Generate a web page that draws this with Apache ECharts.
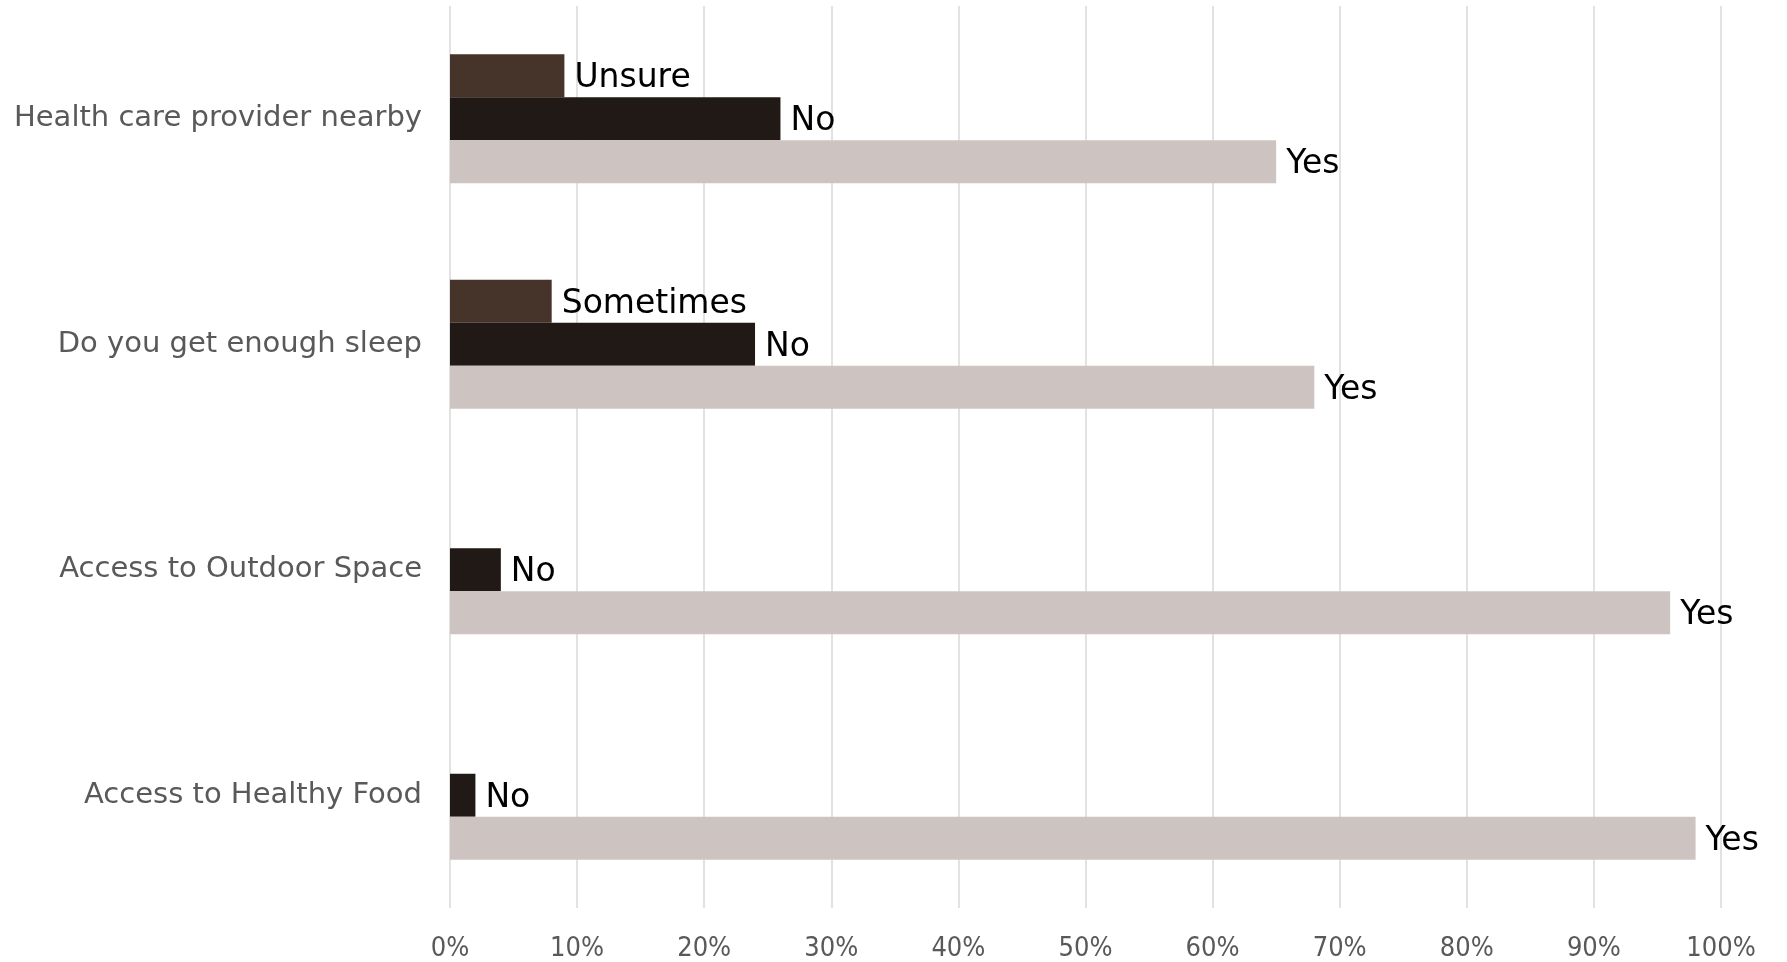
<!DOCTYPE html>
<html>
<head>
<meta charset="utf-8">
<script src="https://cdn.jsdelivr.net/npm/echarts@6/dist/echarts.min.js"></script>
<style>
html,body{margin:0;padding:0;background:#fff;}
#chart{width:1787px;height:962px;}
</style>
</head>
<body>
<div id="chart"></div>
<script>
// Data (top-to-bottom category order)
const categories = ['Health care provider nearby', 'Do you get enough sleep', 'Access to Outdoor Space', 'Access to Healthy Food'];
const yesValues = [65, 68, 96, 98];
const noValues = [26, 24, 4, 2];
const otherValues = [9, 8, null, null];
const otherLabels = ['Unsure', 'Sometimes', '', ''];
const xTicks = [0, 10, 20, 30, 40, 50, 60, 70, 80, 90, 100];

const labelStyle = {
  show: true,
  position: 'right',
  distance: 10,
  offset: [0, 3],
  color: '#000',
  fontFamily: 'DejaVu Sans',
  fontSize: 33
};

const chart = echarts.init(document.getElementById('chart'));
chart.setOption({
  backgroundColor: '#fff',
  animation: false,
  grid: { left: 450, right: 66, top: 6, bottom: 54, containLabel: false },
  xAxis: {
    type: 'value',
    min: xTicks[0],
    max: xTicks[xTicks.length - 1],
    interval: 10,
    axisLine: { show: false },
    axisTick: { show: false },
    splitLine: { show: true, lineStyle: { color: '#d9d9d9', width: 1.5 } },
    axisLabel: {
      formatter: v => v + '%',
      color: '#595959',
      fontFamily: 'DejaVu Sans Condensed',
      fontSize: 27,
      margin: 27
    }
  },
  yAxis: {
    type: 'category',
    inverse: true,
    data: categories,
    axisLine: { show: false },
    axisTick: { show: false },
    axisLabel: {
      color: '#595959',
      fontFamily: 'DejaVu Sans',
      fontSize: 29,
      margin: 28,
      padding: [6, 0, 0, 0]
    }
  },
  series: [
    {
      name: 'Other',
      type: 'bar',
      data: otherValues,
      barWidth: 43,
      barGap: '0%',
      itemStyle: { color: '#46332a' },
      label: Object.assign({}, labelStyle, { formatter: p => otherLabels[p.dataIndex] })
    },
    {
      name: 'No',
      type: 'bar',
      data: noValues,
      barWidth: 43,
      barGap: '0%',
      itemStyle: { color: '#211915' },
      label: Object.assign({}, labelStyle, { formatter: 'No' })
    },
    {
      name: 'Yes',
      type: 'bar',
      data: yesValues,
      barWidth: 43,
      barGap: '0%',
      itemStyle: { color: '#cdc4c2' },
      label: Object.assign({}, labelStyle, { formatter: 'Yes' })
    }
  ]
});
</script>
</body>
</html>
